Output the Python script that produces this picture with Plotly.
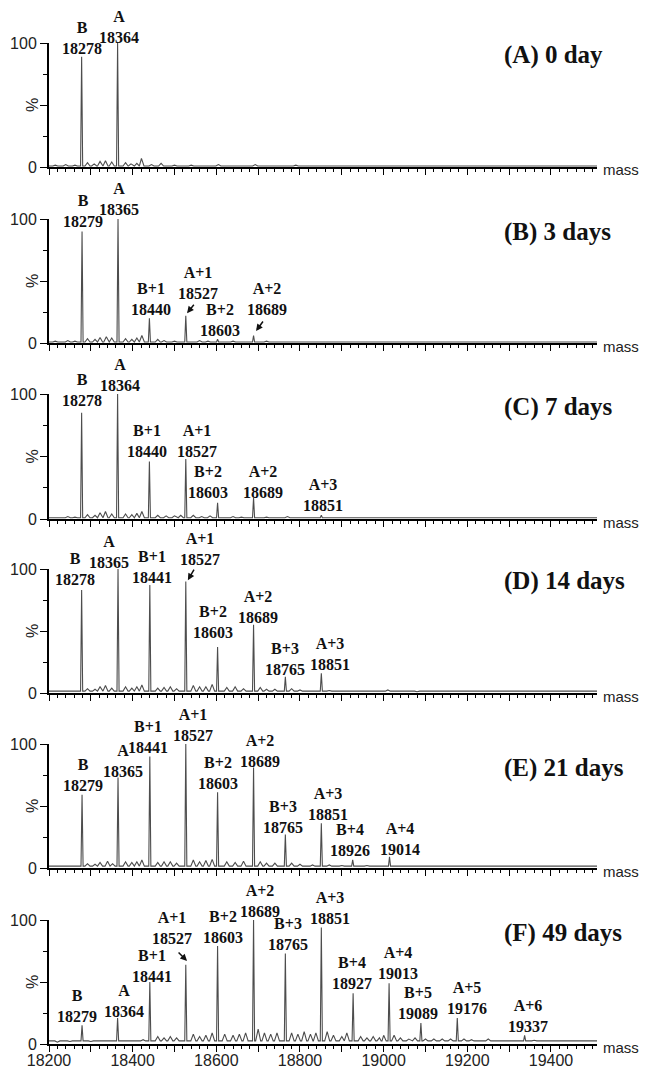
import plotly.graph_objects as go

W, H = 647, 1071          # browser window
PAGE_PAD = 8              # default body margin of the html page
FW, FH = W - PAGE_PAD, H - PAGE_PAD
XMIN, XMAX = 18200, 19510

titles = ["(A) 0 day", "(B) 3 days", "(C) 7 days", "(D) 14 days", "(E) 21 days", "(F) 49 days"]

x_tick_vals = list(range(18200, 19500, 100))
x_tick_text = ["18200", "", "18400", "", "18600", "", "18800", "", "19000", "", "19200", "", "19400"]

# ---- Panel A: 0 day ----
A_names = ["B", "A"]
A_mass = [18278, 18364]
A_int = [89, 100]
A_minor_mass = [18215, 18240, 18262, 18292, 18308, 18322, 18335, 18350, 18383, 18396, 18410, 18421,
                18445, 18468, 18500, 18540, 18605, 18650, 18693, 18730, 18790, 18840, 18900, 18990, 19060, 19150]
A_minor_int = [1.5, 2, 1.5, 3.5, 2.5, 4.5, 5, 4, 3.5, 2.5, 3, 7,
               2, 3, 1.5, 1.5, 2, 1, 2, 1, 1.5, 1, 1, 1, 1, 0.8]

# ---- Panel B: 3 days ----
B_names = ["B", "A", "B+1", "A+1", "B+2", "A+2"]
B_mass = [18279, 18365, 18440, 18527, 18603, 18689]
B_int = [90, 100, 20, 22, 3, 6]
B_minor_mass = [18215, 18245, 18262, 18292, 18310, 18322, 18337, 18350, 18383, 18398, 18410, 18422,
                18460, 18475, 18500, 18560, 18580, 18640, 18720, 18760, 18800, 18850, 18910, 18990, 19100, 19250]
B_minor_int = [1.5, 2, 1.5, 3.5, 3, 4.5, 5, 4, 3.5, 3, 4, 6,
               3, 2, 1.5, 2, 1.5, 1.5, 1.5, 1, 1, 1, 1, 1, 1, 0.8]

# ---- Panel C: 7 days ----
C_names = ["B", "A", "B+1", "A+1", "B+2", "A+2", "A+3"]
C_mass = [18278, 18364, 18440, 18527, 18603, 18689, 18851]
C_int = [85, 100, 46, 48, 13, 17, 3]
C_minor_mass = [18215, 18245, 18262, 18292, 18310, 18322, 18335, 18350, 18383, 18398, 18410, 18422,
                18460, 18480, 18500, 18515, 18545, 18565, 18585, 18640, 18660, 18720, 18745, 18770,
                18800, 18900, 18960, 19050, 19150]
C_minor_int = [1.5, 2, 1.5, 3.5, 3, 5, 6, 4, 4, 3.5, 4.5, 6,
               3, 2.5, 2.5, 3, 3, 2, 2.5, 2, 1.5, 1.5, 1.5, 2,
               1, 1, 1, 1, 0.8]

# ---- Panel D: 14 days ----
D_names = ["B", "A", "B+1", "A+1", "B+2", "A+2", "B+3", "A+3"]
D_mass = [18278, 18365, 18441, 18527, 18603, 18689, 18765, 18851]
D_int = [83, 100, 87, 90, 37, 55, 13, 16]
D_minor_mass = [18215, 18245, 18262, 18292, 18310, 18322, 18335, 18350, 18383, 18398, 18410, 18422,
                18460, 18475, 18490, 18505, 18545, 18560, 18575, 18590, 18625, 18645, 18665, 18705,
                18720, 18740, 18780, 18800, 18830, 18870, 18900, 18950, 19010, 19080, 19150, 19300]
D_minor_int = [1.5, 2, 1.5, 3.5, 3, 5, 6, 4, 5, 4, 5, 6.5,
               4, 4.5, 5, 3.5, 6, 5, 5, 7, 4.5, 5, 3.5, 4.5,
               3, 3, 3.5, 2.5, 2, 2, 2, 1.5, 2.5, 1, 1, 1]

# ---- Panel E: 21 days ----
E_names = ["B", "A", "B+1", "A+1", "B+2", "A+2", "B+3", "A+3", "B+4", "A+4"]
E_mass = [18279, 18365, 18441, 18527, 18603, 18689, 18765, 18851, 18926, 19014]
E_int = [59, 73, 90, 100, 61, 81, 27, 36, 6.5, 9]
E_minor_mass = [18215, 18245, 18262, 18292, 18310, 18322, 18340, 18352, 18383, 18398, 18410, 18422,
                18460, 18475, 18490, 18505, 18545, 18560, 18575, 18590, 18625, 18645, 18665, 18705,
                18720, 18740, 18780, 18800, 18830, 18870, 18900, 18960, 18980, 19040, 19100, 19160,
                19250, 19300, 19350, 19420]
E_minor_int = [1.5, 2, 1.5, 3.5, 3, 4.5, 5.5, 3.5, 5, 4.5, 5, 6.5,
               4.5, 5, 5, 4, 6.5, 5, 6, 7, 5, 4.5, 5.5, 5,
               4, 4, 4, 3, 2.5, 2.5, 2, 2, 2, 1.5, 1, 1,
               1.5, 1, 1.5, 1]

# ---- Panel F: 49 days ----
F_names = ["B", "A", "B+1", "A+1", "B+2", "A+2", "B+3", "A+3", "B+4", "A+4", "B+5", "A+5", "A+6"]
F_mass = [18279, 18364, 18441, 18527, 18603, 18689, 18765, 18851, 18927, 19013, 19089, 19176, 19337]
F_int = [15, 21, 50, 64, 79, 100, 73, 94, 41, 49, 17, 21, 7]
F_minor_mass = [18220, 18250, 18300, 18330, 18390, 18410, 18425, 18460, 18475, 18490, 18505, 18545,
                18560, 18575, 18590, 18620, 18640, 18655, 18670, 18700, 18715, 18730, 18745, 18780,
                18795, 18810, 18825, 18838, 18865, 18880, 18900, 18912, 18945, 18960, 18975, 18990,
                19000, 19025, 19040, 19060, 19075, 19100, 19120, 19140, 19160, 19192, 19210, 19250,
                19280, 19300, 19320, 19360, 19390, 19420, 19450, 19480]
F_minor_int = [1.5, 2, 2, 2.5, 2.5, 3, 3.5, 6, 5, 6, 5, 8,
               6, 7, 9, 8, 7, 8, 9, 12, 9, 8, 9, 9,
               8, 10, 8, 9, 10, 7, 6, 9, 6, 5, 6, 5,
               7, 7, 5, 4, 5, 4, 4, 4, 4, 4, 3.5, 4,
               3, 3, 3, 3, 2.5, 2.5, 2.5, 2]

panels = [
    (A_names, A_mass, A_int, A_minor_mass, A_minor_int),
    (B_names, B_mass, B_int, B_minor_mass, B_minor_int),
    (C_names, C_mass, C_int, C_minor_mass, C_minor_int),
    (D_names, D_mass, D_int, D_minor_mass, D_minor_int),
    (E_names, E_mass, E_int, E_minor_mass, E_minor_int),
    (F_names, F_mass, F_int, F_minor_mass, F_minor_int),
]

# ---------------- layout / positions (page pixels, not data) ----------------
PANEL_PX = [(43, 167), (219, 343), (394, 519), (569, 693), (744, 868), (920, 1044)]  # (y of 100, y of 0)
BASE = [0.8, 0.8, 1.0, 1.5, 1.5, 2.5]
XL, XR = 49, 597
# label anchor (mass, % of number line centre)
LBL = [
    [(18279, 95.5), (18367, 104.5)],
    [(18281, 98), (18367, 108), (18445, 27), (18556, 40), (18609, 10.5), (18721, 27)],
    [(18279, 95), (18370, 107), (18434, 54), (18554, 54), (18580, 21), (18712, 21), (18856, 11)],
    [(18262, 92), (18344, 105.6), (18446, 93.5), (18561, 108), (18593, 49), (18700, 61),
     (18764, 19.4), (18872, 23.4)],
    [(18281, 67), (18377, 78), (18437, 97), (18545, 107), (18604, 68.5), (18704, 86),
     (18760, 33), (18867, 43), (18920, 14.5), (19039, 15)],
    [(18268, 22), (18379, 26.6), (18446, 54.5), (18494, 85), (18616, 86), (18704, 107),
     (18772, 80), (18872, 101.6), (18924, 49), (19034, 57), (19082, 25), (19199, 29), (19345, 14)],
]
TITLE_PCT = [90, 89.5, 90, 90, 81, 89.5]
ARROWS = [(1, 18530, 24, 8, -10), (1, 18695, 9.7, 8, -11), (3, 18532, 91, 7, -12), (5, 18530, 67, -10, -10)]

LABEL_SIZE = 16
LABEL_FONT = dict(family="Liberation Serif", size=LABEL_SIZE, color="#111111")
TITLE_FONT = dict(family="Liberation Serif", size=25, color="#111111")
TICK_FONT = dict(family="Liberation Sans", size=16, color="#222222")
MASS_FONT = dict(family="Liberation Sans", size=15, color="#222222")


def px_x(px):
    return (px - PAGE_PAD) / FW


def px_y(py):
    return 1 - (py - PAGE_PAD) / FH


def pct_to_paper(i, pct, shift_px=0.0):
    top, bot = PANEL_PX[i]
    ypx = bot - pct * (bot - top) / 100.0 - shift_px
    return px_y(ypx)


fig = go.Figure()
annotations = []
layout = {}

for i, (names, mass, inten, mmass, mint) in enumerate(panels):
    n = i + 1
    sfx = "" if n == 1 else str(n)
    xa, ya = "x" + sfx, "y" + sfx
    base = BASE[i]
    pts = [(XMIN, base), (XMAX, base)]
    for m, h in zip(mass, inten):
        pts += [(m - 2.5, base), (m, h), (m + 2.5, base)]
    for m, h in zip(mmass, mint):
        pts += [(m - 6, base), (m, h), (m + 6, base)]
    pts.sort(key=lambda t: t[0])
    fig.add_trace(go.Scatter(
        x=[p[0] for p in pts], y=[p[1] for p in pts], xaxis=xa, yaxis=ya,
        mode="lines", line=dict(color="#4d4d4d", width=1.1), cliponaxis=False,
        showlegend=False, hoverinfo="skip"))

    top, bot = PANEL_PX[i]
    layout["xaxis" + sfx] = dict(
        domain=[px_x(XL), px_x(XR)], range=[XMIN, XMAX], anchor=ya,
        showline=True, linecolor="black", linewidth=2, mirror=False,
        ticks="outside", ticklen=6, tickwidth=1, tickcolor="black",
        tickmode="array", tickvals=x_tick_vals,
        ticktext=(x_tick_text if n == 6 else [""] * len(x_tick_vals)),
        ticklabelstandoff=-5,
        minor=dict(ticks="outside", ticklen=3, tickwidth=1, tickcolor="black",
                   tickmode="linear", tick0=XMIN, dtick=20, showgrid=False),
        showgrid=False, zeroline=False, tickfont=TICK_FONT, automargin=False, fixedrange=True)
    layout["yaxis" + sfx] = dict(
        domain=[px_y(bot), px_y(top)], range=[0, 100], anchor=xa,
        showline=True, linecolor="black", linewidth=2,
        ticks="outside", ticklen=7, tickwidth=1, tickcolor="black",
        tickmode="array", tickvals=[0, 50, 100], ticktext=["0", "", "100"],
        minor=dict(ticks="outside", ticklen=4, tickwidth=1, tickcolor="black",
                   tickmode="array", tickvals=[25, 75], showgrid=False),
        showgrid=False, zeroline=False, tickfont=TICK_FONT, automargin=False, fixedrange=True)

    # peak labels: two-line block, number line centred at the anchor
    half_gap = LABEL_SIZE * 1.3 / 2.0
    for name, m, (lx, ly) in zip(names, mass, LBL[i]):
        yp = pct_to_paper(i, ly, shift_px=half_gap)
        annotations.append(dict(x=lx, y=yp, xref=xa, yref="paper",
                                text="<b>%s</b><br><b>%d</b>" % (name, m), showarrow=False,
                                xanchor="center", yanchor="middle", align="center",
                                borderpad=0, font=LABEL_FONT))
    # title
    annotations.append(dict(x=px_x(502), y=pct_to_paper(i, TITLE_PCT[i]), xref="paper", yref="paper",
                            text="<b>%s</b>" % titles[i], showarrow=False, xanchor="left",
                            yanchor="middle", font=TITLE_FONT))
    # "mass" axis label
    annotations.append(dict(x=px_x(602), y=pct_to_paper(i, 0), xref="paper", yref="paper",
                            text="mass", showarrow=False, xanchor="left", yanchor="middle",
                            yshift=-3, borderpad=0, font=MASS_FONT))
    # "%" axis label
    annotations.append(dict(x=px_x(32), y=pct_to_paper(i, 50), xref="paper", yref="paper",
                            text="%", showarrow=False, xanchor="center", yanchor="middle",
                            textangle=-90, font=TICK_FONT))

for (i, hm, hp, ax, ay) in ARROWS:
    sfx = "" if i == 0 else str(i + 1)
    annotations.append(dict(x=hm, y=hp, xref="x" + sfx, yref="y" + sfx, text="", showarrow=True,
                            ax=ax, ay=ay, arrowhead=2, arrowsize=0.9, arrowwidth=1.5,
                            arrowcolor="#111111", standoff=0))

fig.update_layout(
    width=FW, height=FH, margin=dict(l=0, r=0, t=0, b=0),
    paper_bgcolor="white", plot_bgcolor="white",
    showlegend=False, annotations=annotations, **layout)

fig.write_html("out.html")
